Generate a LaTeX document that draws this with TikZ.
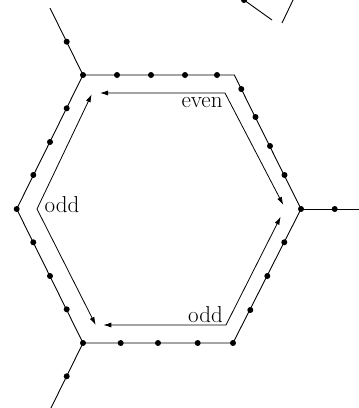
\documentclass[tikz,border=0pt]{standalone}
\usetikzlibrary{arrows.meta}
\begin{document}
\begin{tikzpicture}[x=1pt,y=-1pt,
  dot/.style={circle,fill=black,inner sep=0pt,minimum size=6pt},
  edgeline/.style={line width=0.9pt},
  arr/.style={line width=0.8pt,{Latex[length=8pt,width=5pt]}-{Latex[length=8pt,width=5pt]}},
  lab/.style={font=\fontsize{23}{27}\selectfont,inner sep=0pt,anchor=base}]
\useasboundingbox (0,0) rectangle (359,408);
\clip (0,0) rectangle (359,408);
% hexagon vertices
\coordinate (A) at (83,75);
\coordinate (B) at (234.3,75);
\coordinate (C) at (301,209);
\coordinate (D) at (233,343);
\coordinate (E) at (83,343);
\coordinate (F) at (16.7,209);
% external ends
\coordinate (xa) at (50,8);
\coordinate (xe) at (50,410);
\coordinate (xc) at (362,209);
\coordinate (ta) at (244,0);
\coordinate (tb) at (272,20);
\coordinate (tc) at (294,-2);
\coordinate (td) at (282,23);
% edges
\draw[edgeline] (A) -- (B) -- (C) -- (D) -- (E) -- (F) -- cycle;
\draw[edgeline] (A) -- (xa);
\draw[edgeline] (E) -- (xe);
\draw[edgeline] (C) -- (xc);
\draw[edgeline] (ta) -- (tb);
\draw[edgeline] (tc) -- (td);
% dots
\node[dot] (dA) at (A) {};
\node[dot] (dC) at (C) {};
\node[dot] (dD) at (D) {};
\node[dot] (dE) at (E) {};
\node[dot] (dF) at (F) {};
\node[dot] (t1) at (117,75) {};
\node[dot] (t2) at (151,75) {};
\node[dot] (t3) at (185,75) {};
\node[dot] (t4) at (217,75) {};
\node[dot] (r1) at (241.3,89) {};
\node[dot] (r2) at (255.5,117) {};
\node[dot] (r3) at (270,146) {};
\node[dot] (r4) at (284.5,175) {};
\node[dot] (s1) at (284.3,242.3) {};
\node[dot] (s2) at (267.3,276) {};
\node[dot] (s3) at (250.3,310) {};
\node[dot] (b1) at (197.7,343) {};
\node[dot] (b2) at (158,343) {};
\node[dot] (b3) at (120.7,343) {};
\node[dot] (l1) at (66.7,309.3) {};
\node[dot] (l2) at (50,276) {};
\node[dot] (l3) at (33.3,242.3) {};
\node[dot] (u1) at (33.3,175) {};
\node[dot] (u2) at (50,142) {};
\node[dot] (u3) at (66.7,108.3) {};
\node[dot] (ea) at (66.7,41.7) {};
\node[dot] (ee) at (66.7,376.3) {};
\node[dot] (ec) at (334.7,209) {};
\node[dot] (et) at (ta) {};
% arrow paths
\coordinate (P0) at (37,209);
\coordinate (P1) at (91.7,94.3);
\coordinate (P2) at (95.7,325);
\draw[arr] (P1) -- (P0) -- (P2);
\coordinate (Q0) at (225,93);
\coordinate (Q1) at (100,93);
\coordinate (Q2) at (283.3,205);
\draw[arr] (Q1) -- (Q0) -- (Q2);
\coordinate (R0) at (226,325);
\coordinate (R1) at (103.3,325);
\coordinate (R2) at (280.7,216.7);
\draw[arr] (R1) -- (R0) -- (R2);
% labels
\node[lab] (even) at (202,107) {even};
\node[lab] (oddr) at (205.5,322) {odd};
\node[lab] (oddl) at (62,212.5) {odd};
\end{tikzpicture}
\end{document}
